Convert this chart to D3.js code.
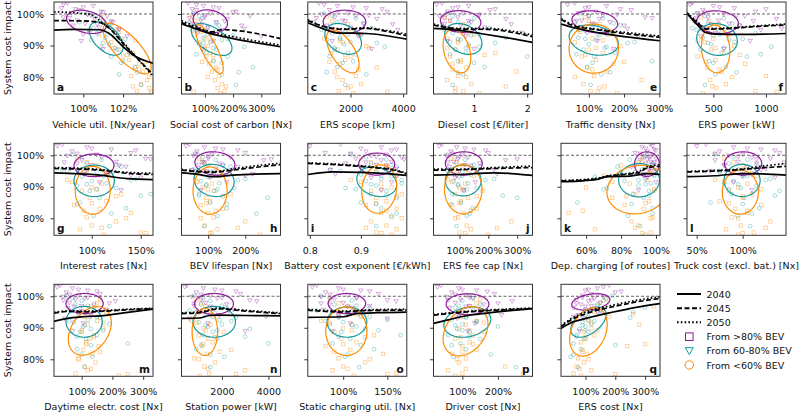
<!DOCTYPE html>
<html><head><meta charset="utf-8">
<script src="https://cdn.jsdelivr.net/npm/d3@7"></script>
<style>body{margin:0;background:#fff}text{font-family:"DejaVu Sans",sans-serif;fill:#111}</style>
</head><body><svg id="c" width="800" height="413"></svg>
<script>
// ---------------- DATA ----------------
const letters = ['a','b','c','d','e','f','g','h','i','j','k','l','m','n','o','p','q'];
const xLabels = ['Vehicle util. [Nx/year]','Social cost of carbon [Nx]','ERS scope [km]','Diesel cost [€/liter]','Traffic density [Nx]','ERS power [kW]',
 'Interest rates [Nx]','BEV lifespan [Nx]','Battery cost exponent [€/kWh]','ERS fee cap [Nx]','Dep. charging [of routes]','Truck cost (excl. bat.) [Nx]',
 'Daytime electr. cost [Nx]','Station power [kW]','Static charging util. [Nx]','Driver cost [Nx]','ERS cost [Nx]'];
const xDomains = [[98.53,103.5],[17,368],[376,4140],[0.24,2.1],[21,302],[250,1190],
 [61.5,162.5],[28,295],[0.796,0.99],[10,353],[45.6,102.3],[39.5,147],
 [10,332],[260,4520],[60,172],[19,297],[18,350]];
const xTicks = [[100,102],[100,200,300],[2000,4000],[1,2],[100,200,300],[500,1000],
 [100,150],[100,200],[0.8,0.9],[100,200,300],[60,80,100],[50,100],
 [100,200,300],[2000,4000],[100,150],[100,200],[100,200,300]];
const xTickLabels = [['100%','102%'],['100%','200%','300%'],['2000','4000'],['1','2'],['100%','200%','300%'],['500','1000'],
 ['100%','150%'],['100%','200%'],['0.8','0.9'],['100%','200%','300%'],['60%','80%','100%'],['50%','100%'],
 ['100%','200%','300%'],['2000','4000'],['100%','150%'],['100%','200%'],['100%','200%','300%']];
const yDomain = [74.6,103.8];
const yTicks = [80,90,100];
const yTickLabels = ['80%','90%','100%'];
const yLabel = 'System cost impact';
const years = ['2040','2045','2050'];
const groupNames = ['From >80% BEV','From 60-80% BEV','From <60% BEV'];

// smoothed trend lines per panel (x, system cost %)
const line2040 = [
 [[98.53,94.9],[99.5,95.1],[100.8,95.0],[101.3,93.8],[102,89.6],[102.5,87],[103.5,84.4]],
 [[17,96.9],[60,95.5],[110,94.0],[200,92.2],[368,89.6]],
 [[376,97.2],[900,95.5],[1470,94.0],[2600,93.8],[4140,92.0]],
 [[0.24,95.4],[0.75,94.7],[1.12,93.8],[1.6,92.5],[2.1,91.0]],
 [[21,96.8],[55,95.7],[130,94.0],[200,92.8],[302,91.5]],
 [[250,100.2],[350,96.5],[420,94.2],[520,93.6],[800,93.5],[1190,93.8]],
 [[61.5,94.4],[108,93.7],[136,92.6],[162.5,92.3]],
 [[28,94.4],[70,94.0],[112,93.2],[167,93.7],[295,94.2]],
 [[0.796,93.9],[0.845,94.7],[0.9,94.6],[0.95,94.2],[0.99,93.6]],
 [[10,93.7],[100,93.9],[219,94.4],[280,94.2],[353,93.6]],
 [[45.6,91.6],[56,91.8],[66,92.3],[72,93.2],[85,93.4],[95,94.2],[102.3,93.9]],
 [[39.5,93.2],[70,93.5],[100,94.2],[120,94.1],[147,93.7]],
 [[10,92.0],[50,92.9],[105,93.5],[160,93.8],[250,94.9],[332,95.9]],
 [[260,93.0],[1030,93.1],[1450,93.9],[1890,94.0],[3000,93.9],[4520,93.8]],
 [[60,93.3],[100,93.5],[115,94.5],[140,94.8],[172,95.0]],
 [[19,91.4],[60,92.5],[96,93.5],[150,94.4],[220,95.3],[297,96.1]],
 [[18,89.8],[50,91.5],[102,93.0],[193,95.0],[270,96.5],[350,97.7]]
];
const line2045 = [
 [[98.53,97.9],[100,97.8],[100.8,97.3],[101.3,95.5],[102,90.6],[102.7,86],[103.5,80.8]],
 [[17,97.3],[60,95.8],[120,94.3],[160,95.0],[368,92.2]],
 [[376,97.9],[1080,95.8],[1720,95.1],[2600,95.4],[3350,94.5],[4140,93.1]],
 [[0.24,96.5],[0.75,95.2],[1.3,95.1],[1.7,94.2],[2.1,92.8]],
 [[21,98.3],[55,96.3],[130,94.9],[200,93.8],[302,92.6]],
 [[250,100.2],[350,97.2],[430,95.2],[600,95.3],[900,96.0],[1190,96.5]],
 [[61.5,95.8],[108,95.3],[135,94.3],[162.5,93.9]],
 [[28,95.3],[112,94.6],[167,95.3],[230,96.2],[295,97.0]],
 [[0.796,97.4],[0.872,96.8],[0.93,96.0],[0.96,95.4],[0.99,94.1]],
 [[10,95.3],[100,95.4],[219,95.8],[353,96.1]],
 [[45.6,91.8],[66,92.5],[72,93.3],[80,93.8],[90,94.5],[95,96.0],[102.3,96.5]],
 [[39.5,94.7],[70,95.0],[100,95.5],[120,96.0],[147,96.5]],
 [[10,94.6],[60,95.2],[105,95.0],[160,95.2],[250,95.7],[332,96.1]],
 [[260,94.5],[1030,94.8],[1890,96.0],[3000,95.3],[4520,94.5]],
 [[60,95.6],[100,95.0],[120,95.4],[172,95.6]],
 [[19,94.0],[96,94.9],[150,95.3],[220,95.7],[297,96.1]],
 [[18,90.3],[50,92.4],[102,94.5],[193,96.7],[270,98.2],[350,99.3]]
];
const line2050 = [
 [[98.53,100.7],[100.3,99.9],[101,97],[101.5,94.5],[102,91],[103.5,80.2]],
 [[17,97.9],[60,96.3],[120,94.3],[200,92.8],[368,90.1]],
 [[376,98.2],[1000,96.0],[1720,95.3],[2600,95.6],[3350,94.8],[4140,93.6]],
 [[0.24,96.8],[0.75,95.4],[1.3,95.4],[1.7,94.6],[2.1,93.3]],
 [[21,98.6],[55,96.6],[130,95.1],[200,94.2],[302,93.0]],
 [[250,100.4],[350,97.5],[430,95.4],[600,95.5],[900,96.2],[1190,96.8]],
 [[61.5,96.1],[108,95.5],[135,94.6],[162.5,94.3]],
 [[28,95.5],[112,94.8],[167,95.7],[230,96.7],[295,97.5]],
 [[0.796,97.6],[0.872,97.0],[0.93,96.2],[0.96,95.6],[0.99,94.3]],
 [[10,95.6],[100,95.6],[219,96.1],[353,96.6]],
 [[45.6,92.0],[66,92.7],[72,93.5],[80,94.0],[90,94.8],[95,96.4],[102.3,97.0]],
 [[39.5,94.9],[70,95.2],[100,95.7],[120,96.5],[147,97.4]],
 [[10,94.9],[60,95.4],[105,95.3],[160,95.4],[250,95.9],[332,96.2]],
 [[260,94.75],[1030,95.05],[1890,96.25],[3000,95.55],[4520,94.75]],
 [[60,95.9],[100,95.3],[120,95.6],[172,95.9]],
 [[19,94.2],[96,95.1],[150,95.5],[220,95.9],[297,96.3]],
 [[18,90.6],[50,92.8],[102,95.0],[193,97.2],[270,98.7],[350,99.8]]
];

// group ellipses: [centre x, centre y, x half-extent, y half-extent, correlation]
const ellPurple = [[100.16,97.5,1.0,3.7,-0.3],[119,97.7,61,3.6,-0.2],[1771,97.5,811,3.7,0],[0.75,97.6,0.38,3.45,-0.1],[117,97.5,65,3.5,-0.2],[540,97.4,198,3.6,-0.1],
 [102.3,96.8,20.4,3.6,0],[118,97.4,54,3.7,-0.1],[0.931,97.2,0.0353,3.5,0],[115,97.4,64,3.7,0],[94.8,97.2,7.1,3.9,0],[100.4,97.4,20.3,3.7,0],
 [109.5,97.7,60.6,3.2,0],[1658,97.6,839,3.3,0],[104.2,97.7,21.2,3.2,0],[114.5,97.5,60,3.3,0],[118,98.2,64,2.6,0.3]];
const ellTeal = [[101.15,92.2,0.85,5.3,-0.5],[124,91.9,72,5.05,-0.55],[1720,92.1,697,4.9,-0.3],[0.80,92.1,0.35,4.9,-0.3],[114,91.7,70,4.8,-0.25],[535,91.9,193,5.05,-0.1],
 [102.5,91.9,20.6,5.0,0],[116,92.0,54,5.1,-0.1],[0.931,91.6,0.039,4.7,-0.2],[113,92.0,62,4.9,0],[90.3,92.1,11.7,5.3,0],[99.3,92.0,19.6,5.1,0],
 [108,91.9,59,4.9,0],[1667,91.9,916,4.9,0],[104.3,91.8,22.5,4.8,0],[114,91.8,66,4.8,0.2],[110,91.8,59,4.8,0.5]];
const ellOrange = [[102.2,89.0,1.21,8.0,-0.75],[116,88.8,49,7.7,-0.8],[1706,88.1,620,6.8,-0.6],[0.68,88.2,0.26,6.9,-0.3],[114,89.0,70,7.8,0],[522,88.9,135,7.6,-0.1],
 [101,88.9,17.9,7.6,0],[105,88.8,46,7.5,0],[0.936,89.3,0.0343,7.7,0.1],[113,89.2,65,7.8,0],[89.5,89.1,17.6,7.7,0.1],[97.4,88.3,19.6,7.0,0],
 [126.6,89.0,70,7.7,0.35],[1265,88.7,550,7.5,0],[103.6,88.9,23.3,7.7,0],[109,88.9,63,7.8,0.3],[110,88.7,63,7.7,0.3]];

// scenario outcomes (system cost impact %) per group, shared by all panels
const yPurple = [103.5,102.6,101.9,101.3,100.8,100.3,99.9,99.4,99.0,98.5,98.0,97.5,97.0,96.4,95.8,95.0,94.1,93.0,91.5,89.0,
                 103.0,102.2,101.6,100.6,99.6,98.8,97.8,96.8,95.4,93.6];
const yTeal   = [100.2,98.6,97.4,96.4,95.5,94.7,93.9,93.2,92.5,91.8,91.1,90.4,89.6,88.7,87.7,86.5,85.0,83.2,80.8,77.5,
                 99.4,97.0,95.0,93.5,92.1,90.8,89.2,87.2,84.5,81.5];
const yOrange = [99.0,96.8,95.0,93.5,92.2,91.0,89.8,88.7,87.6,86.5,85.4,84.2,83.0,81.7,80.3,79.0,77.7,76.5,75.5,74.8,
                 97.8,94.3,91.6,89.2,87.0,84.8,82.4,80.0,77.0,75.3];

// parameter value of each scenario, per panel
const xPurple = [
 [99.2,100.5,98.9,99.8,100.9,99.4,100.2,101.2,99.0,100.6,99.7,101.5,100.1,99.5,100.8,101.8,100.3,102.2,99.9,101.0, 99.0,100.0,99.6,101.0,100.4,99.3,101.4,100.7,101.8,100.0],
 [40,95,150,70,210,120,60,260,100,180,85,140,50,230,110,160,75,300,130,90, 70,130,55,200,100,45,170,90,240,120],
 [800,1500,2600,1200,3400,1900,900,2200,1400,3000,1700,600,2500,1100,2000,3800,1600,2300,1300,2800, 1000,2100,3200,1500,2700,700,1800,3600,1250,2400],
 [0.4,0.9,0.6,1.3,0.5,0.8,1.1,0.35,0.7,1.6,0.55,0.95,0.45,0.75,1.2,0.65,1.9,0.85,0.5,1.0, 0.3,0.7,1.4,0.6,1.1,0.45,0.9,1.7,0.55,0.8],
 [60,150,90,220,120,70,180,100,260,130,80,160,110,200,75,140,95,240,125,170, 40,100,190,85,140,280,65,115,210,150],
 [300,500,700,400,900,350,600,800,450,1100,550,320,650,750,420,950,520,380,850,600, 280,560,1000,420,720,340,880,480,1150,640],
 [70,95,120,80,140,105,75,110,155,90,125,85,100,135,78,115,92,150,108,130, 65,100,145,85,118,160,72,128,95,140],
 [50,90,140,70,200,110,60,160,100,250,85,130,75,180,120,95,220,105,150,80, 40,120,180,65,100,270,90,140,55,200],
 [0.86,0.94,0.97,0.91,0.83,0.95,0.92,0.98,0.89,0.94,0.96,0.87,0.93,0.9,0.97,0.95,0.85,0.92,0.96,0.94, 0.8,0.9,0.96,0.88,0.93,0.985,0.91,0.95,0.84,0.97],
 [40,90,150,70,200,110,55,130,95,260,80,170,120,65,140,100,230,85,155,115, 30,120,190,75,100,300,60,140,220,90],
 [97,92,99,95,88,98,93,96,100,91,97,94,99,86,96,98,93,95,100,90, 98,94,100,91,97,95,99,88,96,93],
 [60,90,120,75,140,100,85,110,130,70,95,115,80,105,125,65,100,135,90,110, 50,105,135,70,95,115,145,80,120,100],
 [30,70,120,50,160,90,40,110,80,210,60,140,100,55,180,85,130,45,105,70, 20,90,150,60,120,40,190,75,100,130],
 [500,1200,2000,900,2800,1500,700,1800,1100,3500,1300,2200,800,1600,2500,1000,1900,600,1400,3000, 400,1700,2600,1100,2000,3200,800,1500,2300,3900],
 [70,95,120,80,140,105,75,115,90,160,100,85,130,110,78,125,95,150,108,88, 65,100,130,85,115,150,75,105,140,95],
 [40,90,140,70,190,110,55,130,95,240,80,160,120,65,150,100,210,85,135,115, 30,100,170,80,120,60,200,110,150,90],
 [180,140,100,200,120,90,160,130,70,110,150,85,120,60,100,140,75,95,55,80, 160,110,220,140,90,120,70,100,150,60]
];
const xTeal = [
 [100.2,100.9,99.8,101.3,100.5,101.0,100.7,101.6,101.1,100.4,101.9,101.3,100.9,101.7,102.3,101.4,102.0,102.6,101.8,102.9, 100.6,101.4,100.3,101.2,102.1,101.0,101.6,102.4,101.9,102.7],
 [60,90,45,150,110,70,130,200,95,160,120,80,240,140,105,180,130,270,160,210, 80,140,55,110,180,95,130,70,160,220],
 [1000,2200,1500,700,2800,1800,1300,2400,1600,1100,2000,1750,3300,1400,1900,1200,2100,1500,2600,1800, 1300,2500,900,1900,1600,3000,1400,2200,1700,1100],
 [0.5,1.0,0.7,0.4,1.3,0.8,0.6,0.95,1.6,0.75,0.55,0.9,1.1,0.65,0.85,2.0,0.7,1.2,0.8,0.6, 0.6,0.9,0.45,1.1,0.7,1.4,0.85,0.55,1.0,0.7],
 [80,140,60,190,110,90,160,130,70,120,230,100,150,85,175,115,280,95,135,105, 100,170,75,125,90,210,145,65,110,160],
 [350,600,450,750,300,550,900,500,400,650,700,480,1050,380,580,820,460,620,520,420, 420,680,340,560,780,450,600,950,500,720],
 [80,110,95,130,70,105,120,90,145,100,115,85,125,98,160,108,88,135,102,118, 90,125,75,112,140,95,105,150,85,120],
 [70,120,90,160,60,110,140,100,200,80,130,95,170,115,75,260,105,150,125,90, 85,140,65,110,180,95,125,75,150,230],
 [0.88,0.95,0.92,0.97,0.84,0.93,0.9,0.96,0.94,0.91,0.98,0.93,0.87,0.95,0.92,0.97,0.9,0.94,0.96,0.93, 0.91,0.96,0.86,0.94,0.98,0.92,0.89,0.95,0.93,0.97],
 [60,120,90,170,70,110,140,100,220,80,130,95,160,115,75,300,105,145,125,90, 85,150,60,110,190,95,125,250,70,135],
 [95,85,98,78,92,88,99,65,94,82,97,90,72,96,87,93,55,98,84,91, 93,97,80,99,90,94,70,96,86,98],
 [70,105,85,120,95,75,110,100,130,90,80,115,98,140,88,102,65,118,94,108, 90,115,75,105,125,95,85,135,100,110],
 [50,100,80,140,65,110,90,160,120,75,190,105,130,95,150,115,250,85,135,110, 70,120,95,150,60,110,170,85,130,100],
 [800,1500,1100,2200,600,1700,1300,2600,1900,1000,2000,1400,3200,1600,1200,1800,4000,900,2100,1500, 1200,2000,900,1600,2400,1300,1800,3000,1100,1500],
 [75,110,90,130,70,105,120,95,150,100,85,115,125,98,165,108,88,135,102,118, 85,115,100,130,80,110,140,95,120,105],
 [120,100,150,80,130,90,170,110,70,140,100,200,85,120,60,150,95,110,75,250, 130,90,160,110,140,80,100,120,70,180],
 [190,160,140,300,120,150,100,250,110,90,120,100,80,110,70,95,60,85,50,75, 170,140,260,110,130,90,100,70,200,60]
];
const xOrange = [
 [100.9,101.2,101.6,100.8,101.9,101.4,102.1,101.8,102.5,102.0,102.3,102.8,102.6,103.0,102.4,103.2,102.9,103.3,102.7,103.4, 101.0,101.8,102.6,101.5,102.2,103.1,102.8,103.3,102.5,103.4],
 [55,70,90,60,100,80,110,95,120,105,130,115,140,125,150,135,160,145,170,155, 65,85,120,100,130,90,145,110,175,60],
 [1100,1900,1400,2300,1000,1700,2600,1500,1250,2000,1800,1600,3000,1400,2200,1700,2400,1900,1550,2100, 1300,2000,1600,2700,1800,1200,2300,1500,2000,3400],
 [0.45,0.8,0.6,1.0,0.5,0.7,0.9,0.65,1.4,0.55,0.75,0.6,0.85,1.8,0.7,0.5,0.95,0.65,0.8,1.1, 0.55,0.9,0.7,0.5,1.2,0.75,0.6,0.85,1.6,0.65],
 [90,130,70,160,110,60,190,100,140,80,120,170,95,150,115,250,85,130,105,180, 100,75,140,120,90,200,110,60,145,125],
 [380,550,450,650,500,420,700,480,600,350,520,800,440,580,1000,470,620,530,900,400, 460,600,350,520,750,430,560,680,490,1100],
 [85,105,95,120,75,110,100,90,130,98,115,82,108,140,95,125,100,88,150,112, 95,115,80,105,125,100,92,135,110,155],
 [75,100,90,130,65,110,85,120,160,95,105,80,140,100,115,200,90,125,110,240, 85,115,70,100,140,95,120,80,180,105],
 [0.9,0.95,0.93,0.97,0.88,0.94,0.96,0.92,0.98,0.93,0.95,0.91,0.97,0.94,0.96,0.92,0.95,0.97,0.93,0.96, 0.92,0.96,0.9,0.94,0.97,0.93,0.95,0.98,0.91,0.94],
 [70,110,90,150,60,120,100,180,85,130,105,75,160,115,95,280,125,140,100,200, 90,130,75,110,160,100,140,85,230,120],
 [92,80,97,70,95,85,60,99,88,75,96,82,93,50,98,86,90,65,97,94, 90,96,75,99,83,94,58,97,88,92],
 [80,100,90,115,70,105,95,85,110,100,75,120,92,105,88,130,98,82,112,95, 90,110,80,120,100,85,105,95,125,100],
 [160,130,180,110,150,120,170,100,140,125,115,155,105,135,90,145,110,120,80,220, 150,125,170,100,140,115,160,90,130,250],
 [900,1300,1100,1800,700,1500,1200,2100,1000,1400,1600,1150,2400,1350,800,1700,1250,3000,1450,1050, 1100,1500,900,1300,1700,1200,1900,1000,1400,2600],
 [85,105,95,120,75,110,100,90,135,98,115,80,108,145,95,125,100,88,160,112, 95,115,85,110,125,100,90,130,105,150],
 [150,120,170,100,140,110,90,160,130,80,120,100,140,70,110,90,220,60,100,80, 140,110,160,120,95,130,100,85,110,270],
 [170,330,130,180,110,280,120,95,130,100,85,240,90,105,75,95,70,120,60,85, 150,260,120,140,100,300,90,110,80,200]
];

// ---------------- LAYOUT / STYLE ----------------
const colLeft = [54,181.5,307.8,433.5,561,687];
const rowTop = [2,143.3,284.3];
const pw = 99, ph = 92;
const letterRight = [false,false,false,true,true,true,false,true,false,true,false,false,true,true,true,true,true];
const C = {purple:'#8e1a9c', teal:'#14999b', orange:'#ff8c00'};
const FS = 9.5;

const svg = d3.select('#c');
const defs = svg.append('defs');

const downTri = s => `M${-s},${-s*0.6}L${s},${-s*0.6}L0,${s*1.1}Z`;

function ellipsePath(e, xs, ys){
  const [cx,cy,sx,sy,r] = e;
  const q = Math.sqrt(1-r*r);
  const pts = d3.range(0,73).map(k=>{const t=k/72*2*Math.PI;
    return [xs(cx+sx*Math.cos(t)), ys(cy+sy*(r*Math.cos(t)+q*Math.sin(t)))];});
  return d3.line().curve(d3.curveLinearClosed)(pts);
}

letters.forEach((L,i)=>{
  const col = i%6, row = Math.floor(i/6);
  const x0 = colLeft[col], y0 = rowTop[row];
  const xs = d3.scaleLinear().domain(xDomains[i]).range([x0,x0+pw]);
  const ys = d3.scaleLinear().domain(yDomain).range([y0+ph,y0]);
  defs.append('clipPath').attr('id','cp'+i).append('rect').attr('x',x0).attr('y',y0).attr('width',pw).attr('height',ph);
  const g = svg.append('g').attr('clip-path',`url(#cp${i})`);

  // scatter
  const sg = g.append('g').attr('fill','none').attr('stroke-width',0.8);
  sg.selectAll('.o').data(xOrange[i].map((x,k)=>[x,yOrange[k]])).join('rect')
    .attr('x',d=>xs(d[0])-1.7).attr('y',d=>ys(d[1])-1.7).attr('width',3.4).attr('height',3.4)
    .attr('stroke',C.orange).attr('stroke-opacity',0.45);
  sg.selectAll('.t').data(xTeal[i].map((x,k)=>[x,yTeal[k]])).join('circle')
    .attr('cx',d=>xs(d[0])).attr('cy',d=>ys(d[1])).attr('r',1.9)
    .attr('stroke',C.teal).attr('stroke-opacity',0.45);
  sg.selectAll('.p').data(xPurple[i].map((x,k)=>[x,yPurple[k]])).join('path')
    .attr('d',downTri(2.2)).attr('transform',d=>`translate(${xs(d[0])},${ys(d[1])})`)
    .attr('stroke',C.purple).attr('stroke-opacity',0.45);

  // 100% reference
  g.append('line').attr('x1',x0).attr('x2',x0+pw).attr('y1',ys(100)).attr('y2',ys(100))
    .attr('stroke','#555').attr('stroke-width',0.9).attr('stroke-dasharray','3,2');

  // ellipses
  [[ellPurple,C.purple],[ellTeal,C.teal],[ellOrange,C.orange]].forEach(([E,c])=>{
    g.append('path').attr('d',ellipsePath(E[i],xs,ys)).attr('fill','none').attr('stroke',c).attr('stroke-width',1.2);
  });

  // trend lines
  const ln = d3.line().curve(d3.curveMonotoneX).x(d=>xs(d[0])).y(d=>ys(d[1]));
  [[line2040,null],[line2045,'5,2.5'],[line2050,'1.6,2.2']].forEach(([D,dash])=>{
    g.append('path').attr('d',ln(D[i])).attr('fill','none').attr('stroke','#000').attr('stroke-width',1.7)
      .attr('stroke-dasharray',dash);
  });

  // frame
  svg.append('rect').attr('x',x0).attr('y',y0).attr('width',pw).attr('height',ph)
    .attr('fill','none').attr('stroke','#333').attr('stroke-width',1);

  // x axis
  const xa = svg.append('g').attr('transform',`translate(0,${y0+ph})`)
    .call(d3.axisBottom(xs).tickValues(xTicks[i]).tickFormat((d,k)=>xTickLabels[i][k]).tickSize(3.5).tickPadding(8));
  xa.select('.domain').remove();
  xa.selectAll('line').attr('stroke','#333');
  xa.selectAll('text').attr('font-size',FS).attr('font-family','DejaVu Sans').attr('fill','#111');
  svg.append('text').attr('x',x0+pw/2).attr('y',y0+ph+33.5).attr('text-anchor','middle')
    .attr('font-size',FS).text(xLabels[i]);

  // y axis
  const ya = svg.append('g').attr('transform',`translate(${x0},0)`)
    .call(d3.axisLeft(ys).tickValues(yTicks).tickFormat((d,k)=>col===0?yTickLabels[k]:'').tickSize(3.5).tickPadding(6.5));
  ya.select('.domain').remove();
  ya.selectAll('line').attr('stroke','#333');
  ya.selectAll('text').attr('font-size',FS).attr('font-family','DejaVu Sans').attr('fill','#111');
  if(col===0){
    svg.append('text').attr('transform',`translate(11,${y0+ph/2}) rotate(-90)`).attr('text-anchor','middle')
      .attr('font-size',FS).text(yLabel);
  }

  // panel letter
  svg.append('text').attr('x',letterRight[i]?x0+pw-3:x0+3).attr('y',y0+ph-3)
    .attr('text-anchor',letterRight[i]?'end':'start').attr('font-size',10.5).attr('font-weight','bold').text(L);
});

// ---------------- LEGEND ----------------
const lg = svg.append('g');
const lgY = [294,308.3,322.3,336.7,350.7,365];
[null,'5,2.5','1.6,2.2'].forEach((dash,k)=>{
  lg.append('line').attr('x1',677).attr('x2',701).attr('y1',lgY[k]).attr('y2',lgY[k])
    .attr('stroke','#000').attr('stroke-width',2).attr('stroke-dasharray',dash);
  lg.append('text').attr('x',706.5).attr('y',lgY[k]+3.5).attr('font-size',FS).text(years[k]);
});
lg.append('rect').attr('x',689.3-3.8).attr('y',lgY[3]-3.8).attr('width',7.6).attr('height',7.6)
  .attr('fill','none').attr('stroke',C.purple).attr('stroke-width',1);
lg.append('path').attr('d',downTri(4)).attr('transform',`translate(689.3,${lgY[4]-0.6})`)
  .attr('fill','none').attr('stroke',C.teal).attr('stroke-width',1);
lg.append('circle').attr('cx',689.3).attr('cy',lgY[5]).attr('r',4.2)
  .attr('fill','none').attr('stroke',C.orange).attr('stroke-width',1);
groupNames.forEach((n,k)=>lg.append('text').attr('x',706.5).attr('y',lgY[3+k]+3.5).attr('font-size',FS).text(n));
</script></body></html>
